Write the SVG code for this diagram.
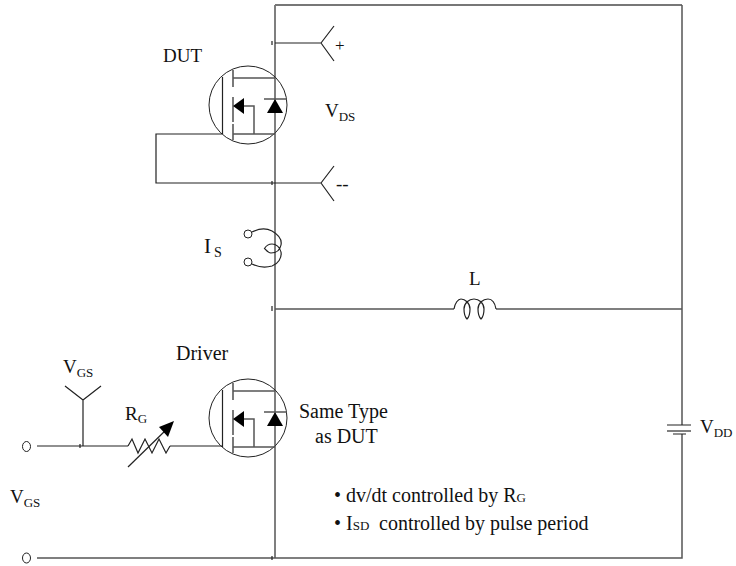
<svg xmlns="http://www.w3.org/2000/svg" width="736" height="566" viewBox="0 0 736 566">
<defs>
<style>
.w{fill:none;stroke:#222;stroke-width:1.2}
.g{fill:none;stroke:#555;stroke-width:1.5}
.f{fill:#000;stroke:none}
.c{fill:none;stroke:#222;stroke-width:1}
text{font-family:"Liberation Serif","Times New Roman",serif;fill:#111;font-size:19px}
.b{font-size:20px}
.s{font-size:13px}
</style>
<g id="fet">
<circle class="c" cx="0" cy="0" r="39"/>
<path class="w" d="M-25.500-28V29M-15-35V-18M-15-8V17M-15 19V35"/>
<path class="g" d="M-15-27H27M-15 29H27M-4 1H6V29"/>
<path class="f" d="M-15 1L-4-7V9Z"/>
<path class="f" d="M27-6L35 8H19Z"/>
<path class="g" d="M16-6H39"/>
</g>
</defs>
<rect width="736" height="566" fill="#fff"/>
<g id="connectors">
<path class="g" d="M275 5V558"/>
<path d="M275 5H682" fill="none" stroke="#777" stroke-width="2"/>
<path class="g" d="M682 5V425M682 434V558H37"/>
<path class="w" d="M275 43H321M321 43L334 26M321 43L334 61"/>
<path class="w" d="M222 134H156V183H321M321 183L334 166M321 183L334 201"/>
<path class="g" d="M275 309H454M496 309H682"/>
<path class="w" d="M37 446H128M170 446H222"/>
<path class="w" d="M83 446V400M83 400L65 386M83 400L101 386"/>
<path class="w" d="M272 41V45M272 181V185M272 306V311M80 444V448M272 556V560"/>
</g>
<g id="dut"><use href="#fet" x="248" y="105"/><text x="163" y="62">DUT</text></g>
<g id="driver"><use href="#fet" x="248" y="418"/><text x="176" y="360" class="b">Driver</text></g>
<g id="terminal-plus"><text x="335" y="51" style="font-size:17px">+</text></g>
<g id="terminal-minus"><text x="336" y="190">--</text></g>
<g id="vds"><text x="325" y="117">V<tspan class="s" dy="4">DS</tspan></text></g>
<g id="is">
<circle class="c" cx="248" cy="234" r="4"/><circle class="c" cx="248" cy="262" r="4"/>
<path class="w" d="M252 232C258 229 266 228 272 231C279 235 282 240 281 245C280 250 276 253 271 253C268 253 266 250 264.500 248.500C266 246 269 244 272 244C276 244 280 247 281 252C282 258 278 264 272 266C265 268 258 267 252 264"/>
<text x="204" y="253" style="font-size:21px">I</text><text x="214" y="257" style="font-size:14px">S</text>
</g>
<g id="inductor-l">
<path class="w" d="M454 309C455 303 458 299 461 299C465 299 470 303 470 309C470 313 469 317 467 319C465 317 464 313 464 309C464 303 469 299 474 299C479 299 484 303 484 309C484 313 483 317 481 319C479 317 478 313 478 309C478 303 483 299 488 299C492 299 495 303 496 309"/>
<text x="469" y="285">L</text>
</g>
<g id="rg">
<path class="w" d="M128 446L132 439L138 453L145 439L152 453L159 439L166 453L170 446"/>
<path class="w" d="M128 467L168 428"/>
<path class="f" d="M174 421L159 427L168 437Z"/>
<text x="125" y="420">R<tspan class="s" dy="3">G</tspan></text>
</g>
<g id="vgs-top"><text x="63" y="373">V<tspan class="s" dy="4">GS</tspan></text></g>
<g id="vgs-left"><text x="10" y="503">V<tspan class="s" dy="4">GS</tspan></text></g>
<g id="in-top"><ellipse class="c" cx="26.500" cy="446.500" rx="4" ry="5"/></g>
<g id="in-bottom"><ellipse class="c" cx="26.500" cy="558" rx="4" ry="5"/></g>
<g id="same-type"><text x="299" y="418" class="b">Same Type</text><text x="315" y="443" class="b">as DUT</text></g>
<g id="battery">
<path class="w" d="M667 425H691M673 434H686"/>
<path class="g" d="M667 431H691"/>
<text x="700" y="433">V<tspan class="s" dy="4">DD</tspan></text>
</g>
<g id="notes">
<text x="334" y="501.500" class="b">• dv/dt controlled by R<tspan class="s">G</tspan></text>
<text x="334" y="530" class="b">• I<tspan class="s">SD</tspan><tspan x="379">controlled by pulse period</tspan></text>
</g>
</svg>
